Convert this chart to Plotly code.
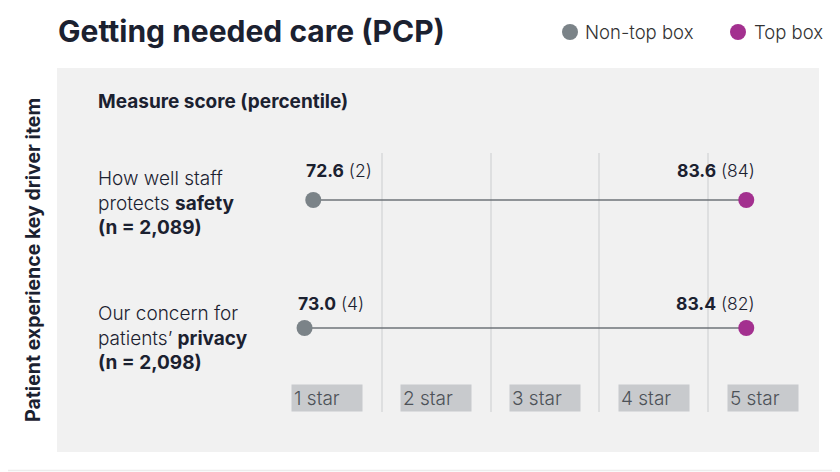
import plotly.graph_objects as go

# Daten
items = ["How well staff<br>protects <b>safety</b><br><b>(n = 2,089)</b>",
         "Our concern for<br>patients’ <b>privacy</b><br><b>(n = 2,098)</b>"]
row_y = [2, 1]
non_top_score = [72.6, 73.0]
non_top_pct = [2, 4]
non_top_pos = [0.37, 0.29]     # position on star scale (0 = start of 1 star band)
top_score = [83.6, 83.4]
top_pct = [84, 82]
top_pos = [4.35, 4.35]
stars = ["1 star", "2 star", "3 star", "4 star", "5 star"]
star_pos = [0.5, 1.5, 2.5, 3.5, 4.5]

grey = "#7b8388"
purple = "#a3308f"
dark = "#1b2130"
FONT = "Inter"

# page has an 8px body margin, so everything is laid out in page pixels minus 8
OFF = 8
W, H = 840 - OFF, 472 - OFF
L, R, T, B = 273 - OFF, 23, 153 - OFF, 60
pw, ph = W - L - R, H - T - B


def px(x):
    return (x - OFF - L) / pw


def py(y):
    return (H - B - (y - OFF)) / ph


fig = go.Figure()

# Verbindungslinien
for i in range(len(items)):
    fig.add_trace(go.Scatter(x=[non_top_pos[i], top_pos[i]], y=[row_y[i], row_y[i]], mode="lines",
                             line=dict(color="#6e7378", width=1.5), showlegend=False, hoverinfo="skip"))

fig.add_trace(go.Scatter(x=non_top_pos, y=row_y, mode="markers", name="Non-top box",
                         marker=dict(color=grey, size=16), showlegend=False, cliponaxis=False))
fig.add_trace(go.Scatter(x=top_pos, y=row_y, mode="markers", name="Top box",
                         marker=dict(color=purple, size=16), showlegend=False, cliponaxis=False))

ann = []
shift_lab = [30, 25]
shift_item = [-3, -10]
for i in range(len(items)):
    ann.append(dict(x=non_top_pos[i], y=row_y[i], xref="x", yref="y", xanchor="left", yanchor="middle",
                    xshift=-9, yshift=shift_lab[i], showarrow=False,
                    text="<b>%.1f</b> (%d)" % (non_top_score[i], non_top_pct[i]),
                    font=dict(size=17.5, color=dark, family=FONT, weight=300)))
    ann.append(dict(x=top_pos[i], y=row_y[i], xref="x", yref="y", xanchor="right", yanchor="middle",
                    xshift=11, yshift=shift_lab[i], showarrow=False,
                    text="<b>%.1f</b> (%d)" % (top_score[i], top_pct[i]),
                    font=dict(size=17.5, color=dark, family=FONT, weight=300)))
    ann.append(dict(x=px(96), y=row_y[i], xref="paper", yref="y", xanchor="left", yanchor="middle",
                    yshift=shift_item[i], showarrow=False, align="left", text=items[i],
                    font=dict(size=19, color=dark, family=FONT, weight=300)))

for s, p in zip(stars, star_pos):
    ann.append(dict(x=p, y=0, xref="x", yref="paper", xanchor="center", yanchor="bottom",
                    showarrow=False, text=s, align="left", width=66, height=22, borderpad=2,
                    bgcolor="#c8cacd", font=dict(size=19, color="#4d5258", family=FONT, weight=300)))

ann.append(dict(x=px(96), y=py(102), xref="paper", yref="paper", xanchor="left", yanchor="middle",
                showarrow=False, text="<b>Measure score (percentile)</b>",
                font=dict(size=19, color=dark, family=FONT)))
ann.append(dict(x=px(33), y=py(260), xref="paper", yref="paper", xanchor="center", yanchor="middle",
                showarrow=False, textangle=-90, text="<b>Patient experience key driver item</b>",
                font=dict(size=19.5, color=dark, family=FONT)))
ann.append(dict(x=px(583), y=py(32), xref="paper", yref="paper", xanchor="left", yanchor="middle",
                showarrow=False, text="Non-top box",
                font=dict(size=18.5, color="#333", family=FONT, weight=300)))
ann.append(dict(x=px(752), y=py(32), xref="paper", yref="paper", xanchor="left", yanchor="middle",
                showarrow=False, text="Top box",
                font=dict(size=18.5, color="#333", family=FONT, weight=300)))

shapes = [
    dict(type="rect", xref="paper", yref="paper", x0=px(57), x1=px(819), y0=py(452), y1=py(68),
         fillcolor="#f1f1f1", line=dict(width=0), layer="below"),
    dict(type="line", xref="paper", yref="paper", x0=px(0), x1=px(840), y0=py(470.5), y1=py(470.5),
         line=dict(color="#ececec", width=1.5), layer="below"),
    dict(type="line", xref="paper", yref="paper", x0=px(839), x1=px(839), y0=py(0), y1=py(472),
         line=dict(color="#ececec", width=1.5), layer="below"),
    dict(type="circle", xref="paper", yref="paper", xsizemode="pixel", ysizemode="pixel",
         xanchor=px(570), yanchor=py(32), x0=-8, x1=8, y0=-8, y1=8, fillcolor=grey, line=dict(width=0)),
    dict(type="circle", xref="paper", yref="paper", xsizemode="pixel", ysizemode="pixel",
         xanchor=px(738), yanchor=py(32), x0=-8, x1=8, y0=-8, y1=8, fillcolor=purple, line=dict(width=0)),
]

fig.update_layout(
    width=W, height=H, margin=dict(l=L, r=R, t=T, b=B),
    paper_bgcolor="white", plot_bgcolor="rgba(0,0,0,0)",
    title=dict(text="<b>Getting needed care (PCP)</b>", x=(58 - OFF) / W, xanchor="left", xref="container",
               y=1 - (31 - OFF) / H, yanchor="middle", yref="container",
               font=dict(size=30, color=dark, family=FONT)),
    annotations=ann, shapes=shapes,
    xaxis=dict(range=[0, 5], tickvals=[0, 1, 2, 3, 4], showticklabels=False, showgrid=True,
               gridcolor="#dedfe0", gridwidth=1.5, zeroline=False, showline=False, fixedrange=True),
    yaxis=dict(range=[1 - 84 / 128, 2 + 47 / 128], showgrid=False, showticklabels=False,
               zeroline=False, showline=False, fixedrange=True),
)

fig.write_html("out.html")
